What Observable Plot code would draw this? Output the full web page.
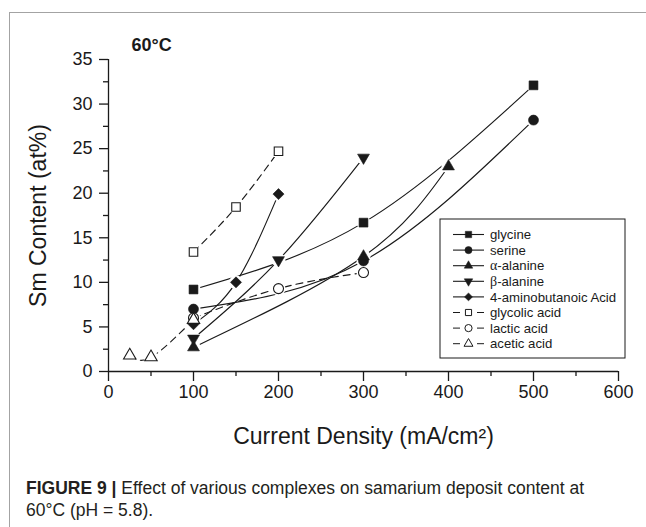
<!DOCTYPE html>
<html><head><meta charset="utf-8">
<script src="https://cdn.jsdelivr.net/npm/d3@7"></script>
<script src="https://cdn.jsdelivr.net/npm/@observablehq/plot@0.6"></script>
<style>
body{margin:0;background:#fff;width:646px;height:527px;overflow:hidden;font-family:"Liberation Sans",Arial,sans-serif;}
#wrap{position:relative;width:646px;height:527px;}
#frame{position:absolute;left:9px;top:12px;width:660px;height:560px;border-top:1px solid #a3a3a3;border-left:1px solid #a3a3a3;}
#chart{position:absolute;left:0;top:0;}
#caption{position:absolute;left:26px;top:477px;font-size:17.5px;line-height:22px;color:#231f20;white-space:nowrap;}
#caption b{font-weight:bold;}
</style></head><body>
<div id="wrap"><div id="frame"></div><div id="chart"></div>
<div id="caption"><b>FIGURE 9</b> <b>|</b> Effect of various complexes on samarium deposit content at<br>60°C (pH = 5.8).</div></div>
<script>
// ---- data ----
const seriesNames = ["glycine","serine","α-alanine","β-alanine","4-aminobutanoic Acid","glycolic acid","lactic acid","acetic acid"];
const glycineX = [100, 300, 500];   const glycineY = [9.2, 16.7, 32.1];
const serineX = [100, 300, 500];    const serineY = [7.0, 12.4, 28.2];
const alphaAlaX = [100, 300, 400];  const alphaAlaY = [2.7, 12.9, 23.0];
const betaAlaX = [100, 200, 300];   const betaAlaY = [3.7, 12.5, 24.0];
const aminoButX = [100, 150, 200];  const aminoButY = [5.3, 10.0, 19.9];
const glycolicX = [100, 150, 200];  const glycolicY = [13.4, 18.45, 24.7];
const lacticX = [100, 200, 300];    const lacticY = [6.0, 9.3, 11.1];
const aceticX = [25, 50, 100];      const aceticY = [1.8, 1.6, 5.8];
const xTicks = [0, 100, 200, 300, 400, 500, 600];
const yTicks = [0, 5, 10, 15, 20, 25, 30, 35];
const xMinor = [50, 150, 250, 350, 450, 550];
const yMinor = [2.5, 7.5, 12.5, 17.5, 22.5, 27.5, 32.5];

const xs = [glycineX, serineX, alphaAlaX, betaAlaX, aminoButX, glycolicX, lacticX, aceticX];
const ys = [glycineY, serineY, alphaAlaY, betaAlaY, aminoButY, glycolicY, lacticY, aceticY];

// marker styles per series
const styles = [
  {symbol: "square",   r: 5.0, filled: true,  rotate: 0,   dashed: false},
  {symbol: "circle",   r: 5.0, filled: true,  rotate: 0,   dashed: false},
  {symbol: "triangle", r: 4.4, filled: true,  rotate: 0,   dashed: false},
  {symbol: "triangle", r: 4.4, filled: true,  rotate: 180, dashed: false},
  {symbol: "square",   r: 4.4, filled: true,  rotate: 45,  dashed: false},
  {symbol: "square",   r: 4.8, filled: false, rotate: 0,   dashed: true},
  {symbol: "circle",   r: 5.0, filled: false, rotate: 0,   dashed: true},
  {symbol: "triangle", r: 4.6, filled: false, rotate: 0,   dashed: true}
];

const ink = "#1a1a1a";
const tables = seriesNames.map((name, s) => xs[s].map((x, i) => ({series: name, x, y: ys[s][i]})));
const allRows = tables.flat();

const marks = [];
tables.forEach((rows, s) => {
  marks.push(Plot.line(rows, {x: "x", y: "y", curve: "natural", stroke: ink, strokeWidth: 1.15,
    strokeDasharray: styles[s].dashed ? "7,5" : null}));
});
marks.push(Plot.dot(allRows, {x: "x", y: "y", r: 7, fill: "white", stroke: null}));
tables.forEach((rows, s) => {
  const st = styles[s];
  marks.push(Plot.dot(rows, {x: "x", y: "y", symbol: () => st.symbol, r: st.r, rotate: st.rotate,
    fill: st.filled ? ink : "white", stroke: ink, strokeWidth: st.filled ? 0.6 : 1.1}));
});
marks.push(Plot.ruleX([0], {stroke: ink, strokeWidth: 1.3}));
marks.push(Plot.ruleY([0], {stroke: ink, strokeWidth: 1.3}));
marks.push(Plot.axisY({ticks: yTicks, tickSize: 9, tickPadding: 7, fontSize: 18, label: null, strokeWidth: 1.3, stroke: ink, fill: ink}));
marks.push(Plot.axisY({ticks: yMinor, tickSize: 5, tickFormat: () => "", label: null, strokeWidth: 1.3, stroke: ink}));
marks.push(Plot.axisX({ticks: xTicks, tickSize: 10, tickPadding: 4, fontSize: 18, label: null, strokeWidth: 1.3, stroke: ink, fill: ink}));
marks.push(Plot.axisX({ticks: xMinor, tickSize: 5, tickFormat: () => "", label: null, strokeWidth: 1.3, stroke: ink}));
marks.push(Plot.text(["Sm Content (at%)"], {text: d => d, frameAnchor: "left", rotate: -90, dx: -70, textAnchor: "middle", lineAnchor: "middle", fontSize: 23, fill: ink}));
marks.push(Plot.text(["Current Density (mA/cm²)"], {text: d => d, frameAnchor: "bottom", dy: 65, textAnchor: "middle", fontSize: 23, fill: ink, lineAnchor: "middle"}));
marks.push(Plot.text(["60°C"], {text: d => d, frameAnchor: "top-left", dx: 23, dy: -14, textAnchor: "start", lineAnchor: "middle", fontSize: 18, fontWeight: "bold", fill: ink}));

const chart = Plot.plot({
  width: 646, height: 470,
  marginLeft: 108, marginRight: 28, marginTop: 59, marginBottom: 99,
  x: {domain: [0, 600]},
  y: {domain: [0, 35]},
  style: {fontFamily: "'Liberation Sans', Arial, sans-serif", background: "transparent", color: ink, overflow: "visible"},
  marks
});
document.getElementById("chart").appendChild(chart);

// legend box
const svg = d3.select(chart);
const lg = svg.append("g").attr("text-anchor", "start");
const lx0 = 440, lx1 = 625, ly0 = 219, ly1 = 358, row0 = 234.5, rowH = 15.6;
lg.append("rect").attr("x", lx0).attr("y", ly0).attr("width", lx1 - lx0).attr("height", ly1 - ly0)
  .attr("fill", "white").attr("stroke", ink).attr("stroke-width", 1);
const symType = {square: d3.symbolSquare, circle: d3.symbolCircle, triangle: d3.symbolTriangle};
seriesNames.forEach((name, s) => {
  const st = styles[s];
  const cy = row0 + s * rowH;
  if (st.dashed) {
    lg.append("line").attr("x1", 453).attr("x2", 460).attr("y1", cy).attr("y2", cy).attr("stroke", ink).attr("stroke-width", 1);
    lg.append("line").attr("x1", 477).attr("x2", 484).attr("y1", cy).attr("y2", cy).attr("stroke", ink).attr("stroke-width", 1);
  } else {
    lg.append("line").attr("x1", 453).attr("x2", 484).attr("y1", cy).attr("y2", cy).attr("stroke", ink).attr("stroke-width", 1.1);
  }
  const size = Math.PI * Math.pow(st.r * 0.72, 2);
  lg.append("path").attr("d", d3.symbol(symType[st.symbol], size)())
    .attr("transform", `translate(468.5,${cy}) rotate(${st.rotate})`)
    .attr("fill", st.filled ? ink : "white").attr("stroke", ink).attr("stroke-width", st.filled ? 0.5 : 1);
  const t = lg.append("text").attr("x", 490).attr("y", cy).attr("dy", "0.36em")
    .attr("text-anchor", "start").attr("font-size", 13.2).attr("fill", ink);
  if (name[0] === "α" || name[0] === "β") {
    t.append("tspan").attr("font-family", "'Liberation Serif', 'DejaVu Serif', serif").attr("font-size", 14).text(name[0]);
    t.append("tspan").text(name.slice(1));
  } else {
    t.text(name);
  }
});
</script>
</body></html>
